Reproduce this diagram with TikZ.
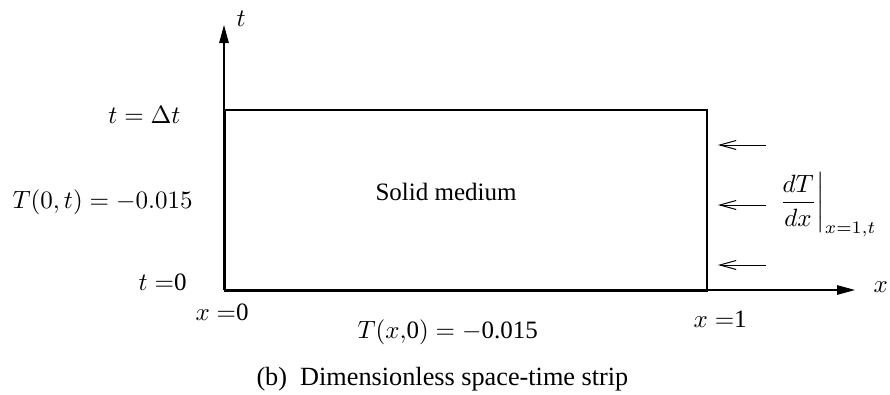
\documentclass[tikz,border=0pt]{standalone}
\usepackage{fontspec}
\setmainfont{Liberation Serif}
\usetikzlibrary{arrows.meta}
\begin{document}
\begin{tikzpicture}[x=0.4pt,y=-0.4pt,
  lbl/.style={inner sep=0pt, font=\fontsize{10}{12}\selectfont},
  axis/.style={line width=0.5pt,-{Triangle[length=7.2pt,width=3.8pt]}},
  flux/.style={line width=0.4pt,-{Straight Barb[length=6.5pt,width=3.6pt]}},
  strip/.style={draw, line width=0.8pt, inner sep=0pt, minimum width=192.8pt, minimum height=72.4pt}]
\useasboundingbox (0,0) rectangle (890,394);
% axes
\coordinate (O) at (224,290);
\coordinate (tend) at (224,25);
\coordinate (xend) at (855,290);
\draw[axis] (O) -- (tend);
\draw[axis] (O) -- (xend);
% strip
\node[strip, anchor=north west] (medium) at (224,109) {};
% flux arrows
\coordinate (f1s) at (766,145); \coordinate (f1e) at (718,145);
\coordinate (f2s) at (766,205); \coordinate (f2e) at (718,205);
\coordinate (f3s) at (766,265); \coordinate (f3e) at (718,265);
\draw[flux] (f1s) -- (f1e);
\draw[flux] (f2s) -- (f2e);
\draw[flux] (f3s) -- (f3e);
% labels
\node[lbl, anchor=base west] (tlab) at (236,26) {$t$};
\node[lbl, anchor=base west] (xlab) at (873,292) {$x$};
\node[lbl, anchor=base east] (ttop) at (181,123) {$t = \Delta t$};
\node[lbl, anchor=base east] (Tleft) at (193,208) {$T(0,t) = -0.015$};
\node[lbl, anchor=base east] (tzero) at (187,290) {$t =$0};
\node[lbl, anchor=base west] (xzero) at (195,320) {$x =$0};
\node[lbl, anchor=base west] (Tbot) at (357,338) {$T(x,$0$) = -$0.015};
\node[lbl, anchor=base west] (xone) at (693,327) {$x =$1};
\node[lbl, anchor=base west] (solid) at (375,200) {Solid medium};
\node[lbl, anchor=west] (fluxlab) at (776,205) {$\left.\displaystyle\frac{dT}{dx}\right|_{x=1,t}$};
\node[inner sep=0pt, font=\fontsize{10.5}{12.5}\selectfont, anchor=base west] (cap) at (256,385) {(b)\enspace Dimensionless space-time strip};
\end{tikzpicture}
\end{document}
